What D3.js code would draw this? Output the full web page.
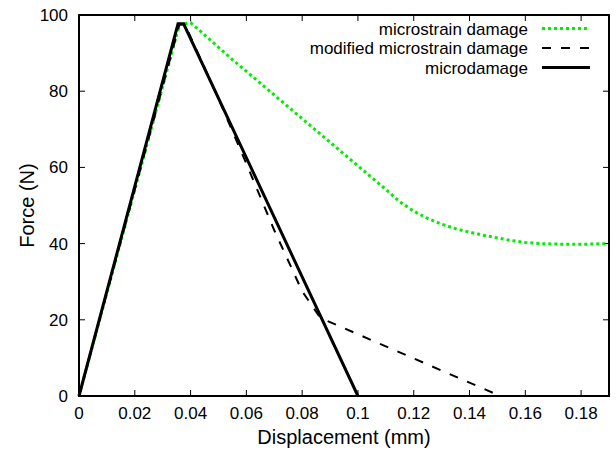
<!DOCTYPE html>
<html>
<head>
<meta charset="utf-8">
<script src="https://cdn.jsdelivr.net/npm/d3@7"></script>
<style>
  body { margin: 0; background: #fff; }
  text { font-family: "Liberation Sans", Arial, sans-serif; }
</style>
</head>
<body>
<div id="chart"></div>
<script>
// Dữ liệu (x: mm, y: N)
const xTicks = [0, 0.02, 0.04, 0.06, 0.08, 0.1, 0.12, 0.14, 0.16, 0.18];
const yTicks = [0, 20, 40, 60, 80, 100];

const microstrainX = [0, 0.036, 0.040, 0.055, 0.07, 0.085, 0.1, 0.11, 0.115, 0.12, 0.125, 0.13, 0.135, 0.14, 0.145, 0.15, 0.155, 0.16, 0.165, 0.17, 0.175, 0.18, 0.185, 0.19];
const microstrainY = [0, 97.5, 98.0, 88.3, 79.0, 69.7, 60.4, 54.2, 51.0, 48.5, 46.6, 45.1, 43.9, 43.0, 42.2, 41.5, 40.8, 40.3, 40.0, 39.9, 39.8, 39.8, 39.9, 40.0];

const modifiedX = [0, 0.036, 0.038, 0.05, 0.06, 0.07, 0.075, 0.08, 0.0865, 0.151, 0.154];
const modifiedY = [0, 97.5, 97.5, 78, 61, 43.5, 35.5, 27.5, 20.5, 0, 0];

const microdamageX = [0, 0.0355, 0.0375, 0.1];
const microdamageY = [0, 97.7, 97.7, 0];

const seriesNames = ['microstrain damage', 'modified microstrain damage', 'microdamage'];

// Kích thước khung
const width = 616, height = 455;
const margin = { left: 79, right: 7, top: 15, bottom: 59 };

const svg = d3.select('#chart').append('svg')
    .attr('width', width)
    .attr('height', height);

const x = d3.scaleLinear().domain([0, 0.19]).range([margin.left, width - margin.right]);
const y = d3.scaleLinear().domain([0, 100]).range([height - margin.bottom, margin.top]);

// Vạch chia hướng vào trong, cả bốn cạnh
const tickLen = 6;
const gx = svg.append('g');
xTicks.forEach(t => {
    gx.append('line').attr('x1', x(t)).attr('x2', x(t))
        .attr('y1', y(0)).attr('y2', y(0) - tickLen).attr('stroke', '#000');
    gx.append('line').attr('x1', x(t)).attr('x2', x(t))
        .attr('y1', y(100)).attr('y2', y(100) + tickLen).attr('stroke', '#000');
    gx.append('text').attr('x', x(t)).attr('y', y(0) + 23)
        .attr('text-anchor', 'middle').attr('font-size', 17).text(t);
});
yTicks.forEach(t => {
    gx.append('line').attr('x1', x(0)).attr('x2', x(0) + tickLen)
        .attr('y1', y(t)).attr('y2', y(t)).attr('stroke', '#000');
    gx.append('line').attr('x1', x(0.19)).attr('x2', x(0.19) - tickLen)
        .attr('y1', y(t)).attr('y2', y(t)).attr('stroke', '#000');
    gx.append('text').attr('x', x(0) - 11).attr('y', y(t) + 6)
        .attr('text-anchor', 'end').attr('font-size', 17).text(t);
});

// Tiêu đề trục
svg.append('text').attr('x', (x(0) + x(0.19)) / 2).attr('y', 444)
    .attr('text-anchor', 'middle').attr('font-size', 20).text('Displacement (mm)');
svg.append('text').attr('transform', `translate(34,${(y(0) + y(100)) / 2}) rotate(-90)`)
    .attr('text-anchor', 'middle').attr('font-size', 20).text('Force (N)');

const line = d3.line().x(d => x(d[0])).y(d => y(d[1]));
const styles = [
    { color: '#00ee00', width: 3, dash: '3,3' },
    { color: '#000', width: 2, dash: '9,10' },
    { color: '#000', width: 3, dash: null }
];
const data = [
    d3.zip(microstrainX, microstrainY),
    d3.zip(modifiedX, modifiedY),
    d3.zip(microdamageX, microdamageY)
];

const plot = svg.append('g');
data.forEach((d, i) => {
    plot.append('path').datum(d)
        .attr('d', line)
        .attr('fill', 'none')
        .attr('stroke', styles[i].color)
        .attr('stroke-width', styles[i].width)
        .attr('stroke-dasharray', styles[i].dash);
});

// Chú thích
seriesNames.forEach((name, i) => {
    const ly = 28.5 + i * 19.5;
    svg.append('text').attr('x', 528).attr('y', ly + 6)
        .attr('text-anchor', 'end').attr('font-size', 17).text(name);
    svg.append('line').attr('x1', 542).attr('x2', 590)
        .attr('y1', ly).attr('y2', ly)
        .attr('stroke', styles[i].color)
        .attr('stroke-width', styles[i].width)
        .attr('stroke-dasharray', styles[i].dash);
});

// Khung
svg.append('rect')
    .attr('x', x(0)).attr('y', y(100))
    .attr('width', x(0.19) - x(0)).attr('height', y(0) - y(100))
    .attr('fill', 'none').attr('stroke', '#000').attr('stroke-width', 2);
</script>
</body>
</html>
